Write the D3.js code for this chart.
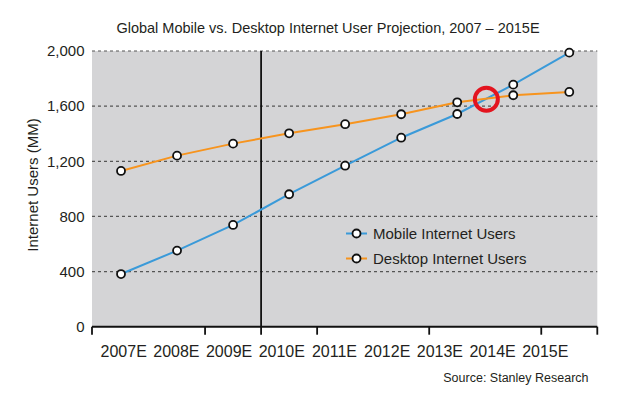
<!DOCTYPE html>
<html>
<head>
<meta charset="utf-8">
<script src="https://cdn.jsdelivr.net/npm/d3@7"></script>
<style>
  html, body { margin: 0; padding: 0; background: #fff; }
  svg { display: block; font-family: "Liberation Sans", Arial, sans-serif; }
</style>
</head>
<body>
<svg id="chart" width="640" height="407"></svg>
<script>
const categories = ["2007E","2008E","2009E","2010E","2011E","2012E","2013E","2014E","2015E"];
const mobileUsers = [382, 552, 738, 961, 1168, 1371, 1543, 1756, 1988];
const desktopUsers = [1130, 1241, 1328, 1403, 1469, 1541, 1628, 1679, 1703];
const yTicks = [0, 400, 800, 1200, 1600, 2000];
const tickAfter = ["2008E","2009E","2010E","2012E","2014E"];
const dividerAfter = "2009E";
const crossover = {cat: "2014E", offset: -0.48, value: 1650};

const series = [
  {name: "Mobile Internet Users", values: mobileUsers, color: "#3a9ad9"},
  {name: "Desktop Internet Users", values: desktopUsers, color: "#f7941e"}
];

(function () {
const svg = d3.select("#chart");
const pLeft = 92, pRight = 597.3, pTop = 51, pBottom = 326.7;
const textColor = "#231f20";

const x = d3.scaleBand().domain(categories).range([93, pRight]).paddingInner(0).paddingOuter(0);
const cx = c => x(c) + x.bandwidth() / 2;
const y = d3.scaleLinear().domain([0, 2000]).range([pBottom, pTop]);
const xLabel = d3.scalePoint().domain(categories).range([123.7, 545.3]);

// background
svg.append("rect").attr("x", pLeft).attr("y", pTop)
  .attr("width", pRight - pLeft).attr("height", pBottom - pTop)
  .attr("fill", "#d4d4d6");

// grid
svg.append("g").selectAll("line").data(yTicks.filter(d => d > 0)).join("line")
  .attr("x1", pLeft).attr("x2", pRight)
  .attr("y1", d => y(d)).attr("y2", d => y(d))
  .attr("stroke", "#555").attr("stroke-width", 1.2).attr("stroke-dasharray", "3,3");

// y tick labels
svg.append("g").selectAll("text").data(yTicks).join("text")
  .attr("x", 84.5).attr("y", d => y(d)).attr("dy", "0.35em")
  .attr("text-anchor", "end").attr("font-size", 15).attr("fill", textColor)
  .text(d => d3.format(",")(d));

// y axis title
svg.append("text")
  .attr("transform", "translate(37.5,185) rotate(-90)")
  .attr("text-anchor", "middle").attr("font-size", 15).attr("fill", textColor)
  .text("Internet Users (MM)");

// vertical divider
const divX = x(dividerAfter) + x.bandwidth();
svg.append("line")
  .attr("x1", divX).attr("x2", divX)
  .attr("y1", pTop).attr("y2", pBottom)
  .attr("stroke", "#111").attr("stroke-width", 1.8);

// x axis baseline + ticks
svg.append("line").attr("x1", pLeft).attr("x2", pRight).attr("y1", pBottom).attr("y2", pBottom)
  .attr("stroke", "#111").attr("stroke-width", 2);
const tickXs = [pLeft, pRight].concat(tickAfter.map(c => x(c) + x.bandwidth()));
svg.append("g").selectAll("line").data(tickXs).join("line")
  .attr("x1", d => d).attr("x2", d => d)
  .attr("y1", pBottom).attr("y2", pBottom + 8)
  .attr("stroke", "#111").attr("stroke-width", 1.8);

// x labels
svg.append("g").selectAll("text").data(categories).join("text")
  .attr("x", d => xLabel(d)).attr("y", 357)
  .attr("text-anchor", "middle").attr("font-size", 16).attr("fill", textColor)
  .text(d => d);

// lines
const line = d3.line().x((d, i) => cx(categories[i])).y(d => y(d));
series.forEach(s => {
  svg.append("path").datum(s.values).attr("d", line)
    .attr("fill", "none").attr("stroke", s.color).attr("stroke-width", 2);
});
series.forEach(s => {
  svg.append("g").selectAll("circle").data(s.values).join("circle")
    .attr("cx", (d, i) => cx(categories[i])).attr("cy", d => y(d))
    .attr("r", 4).attr("fill", "#fff").attr("stroke", "#111").attr("stroke-width", 1.8);
});

// crossover highlight
svg.append("circle")
  .attr("cx", cx(crossover.cat) + crossover.offset * x.bandwidth())
  .attr("cy", y(crossover.value))
  .attr("r", 11.5).attr("fill", "none").attr("stroke", "#e3141f").attr("stroke-width", 4);

// legend
const legend = svg.append("g").attr("transform", "translate(346,233.5)");
series.forEach((s, i) => {
  const g = legend.append("g").attr("transform", `translate(0,${i * 25})`);
  g.append("line").attr("x1", 0).attr("x2", 21).attr("y1", 0).attr("y2", 0)
    .attr("stroke", s.color).attr("stroke-width", 2);
  g.append("circle").attr("cx", 10.5).attr("cy", 0).attr("r", 4)
    .attr("fill", "#fff").attr("stroke", "#111").attr("stroke-width", 1.8);
  g.append("text").attr("x", 27).attr("y", 0).attr("dy", "0.35em")
    .attr("font-size", 15).attr("fill", textColor).text(s.name);
});

// title
svg.append("text").attr("x", 328).attr("y", 32.5).attr("text-anchor", "middle")
  .attr("font-size", 14.5).attr("fill", textColor)
  .text("Global Mobile vs. Desktop Internet User Projection, 2007 \u2013 2015E");

// source
svg.append("text").attr("x", 588.5).attr("y", 382).attr("text-anchor", "end")
  .attr("font-size", 12.5).attr("fill", textColor)
  .text("Source: Stanley Research");
})();
</script>
</body>
</html>
